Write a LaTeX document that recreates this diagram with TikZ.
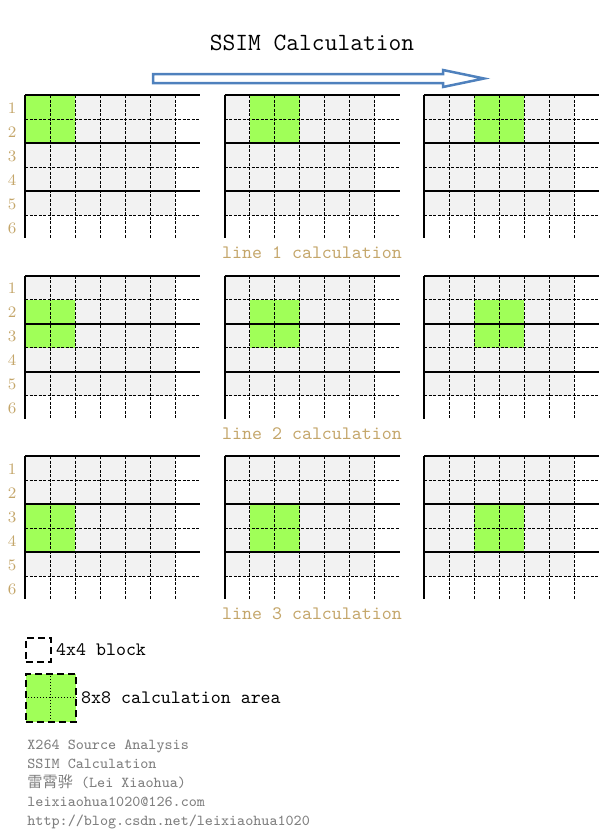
\documentclass[tikz,border=0pt]{standalone}
\usepackage{fontspec}
\usetikzlibrary{positioning}
\newfontfamily\cjkfont{Noto Sans CJK SC}
\definecolor{calcgreen}{RGB}{160,255,88}
\definecolor{cellgrey}{RGB}{242,242,242}
\definecolor{arrowblue}{RGB}{79,129,189}
\definecolor{labeltan}{RGB}{196,166,106}
\definecolor{notegrey}{RGB}{128,128,128}
\tikzset{
  thickline/.style={line width=1pt},
  dashline/.style={line width=0.5pt, dash pattern=on 1.5pt off 0.75pt},
  keydash/.style={draw, line width=0.9pt, dash pattern=on 3.5pt off 2pt},
  rownum/.style={text=labeltan, font=\fontsize{8}{9}\selectfont},
  linelabel/.style={text=labeltan, font=\ttfamily\fontsize{9.5}{11}\selectfont},
  legendtext/.style={inner sep=0pt, font=\ttfamily\fontsize{9.5}{11}\selectfont},
}
\begin{document}
\begin{tikzpicture}[x=0.5pt,y=-0.5pt]
\useasboundingbox (0,0) rectangle (601,832);
\node[font=\ttfamily\fontsize{12.4}{14}\selectfont] (title) at (312,43) {SSIM Calculation};
% direction of the window
\draw[arrowblue, line width=1.25pt, line join=miter] (153,74) -- (443,74) -- (443,70) -- (484,78.5)
  -- (443,87) -- (443,83) -- (153,83) -- cycle;
% three lines, three window positions each
\foreach \r in {0,1,2} {
  \foreach \c in {0,1,2} {
    \pgfmathsetmacro\gx{25+199.5*\c}
    \pgfmathsetmacro\gy{95+180.5*\r}
    \begin{scope}[shift={(\gx,\gy)}]
      \fill[cellgrey] (0,0) rectangle (150,120);
      \fill[calcgreen] (25*\c,24*\r) rectangle (25*\c+50,24*\r+48);
      \foreach \k in {1,...,6}
        \draw[dashline] (25*\k,0) -- (25*\k,143);
      \foreach \k in {1,3,5}
        \draw[dashline] (0,24*\k) -- (175,24*\k);
      \foreach \k in {0,2,4}
        \draw[thickline] (0,24*\k) -- (175,24*\k);
      \draw[thickline] (0,0) -- (0,143);
    \end{scope}
  }
  \foreach \n in {1,...,6}
    \node[rownum] (num\r\n) at (12,95+180.5*\r+24*\n-11) {\n};
}
\node[linelabel] (line1) at (312,253) {line 1 calculation};
\node[linelabel] (line2) at (312,433.5) {line 2 calculation};
\node[linelabel] (line3) at (312,614) {line 3 calculation};
% legend
\node[keydash, anchor=north west, minimum width=12.5pt, minimum height=12pt, inner sep=0pt] (blockkey) at (25,637) {};
\node[legendtext, right=2pt of blockkey] (blocktext) {4x4 block};
\node[keydash, fill=calcgreen, anchor=north west, minimum width=25pt, minimum height=24pt, inner sep=0pt] (areakey) at (25,673) {};
\draw[line width=0.5pt, densely dotted] (areakey.north) -- (areakey.south);
\draw[line width=0.5pt, densely dotted] (areakey.west) -- (areakey.east);
\node[legendtext, right=2pt of areakey] (areatext) {8x8 calculation area};
\node[anchor=north west, align=left, inner sep=0pt, text=notegrey, font=\ttfamily\fontsize{7.6}{9.5}\selectfont] (credits) at (27,740)
  {X264 Source Analysis\\SSIM Calculation\\{\cjkfont 雷霄骅} (Lei Xiaohua)\\leixiaohua1020@126.com\\http://blog.csdn.net/leixiaohua1020};
\end{tikzpicture}
\end{document}
